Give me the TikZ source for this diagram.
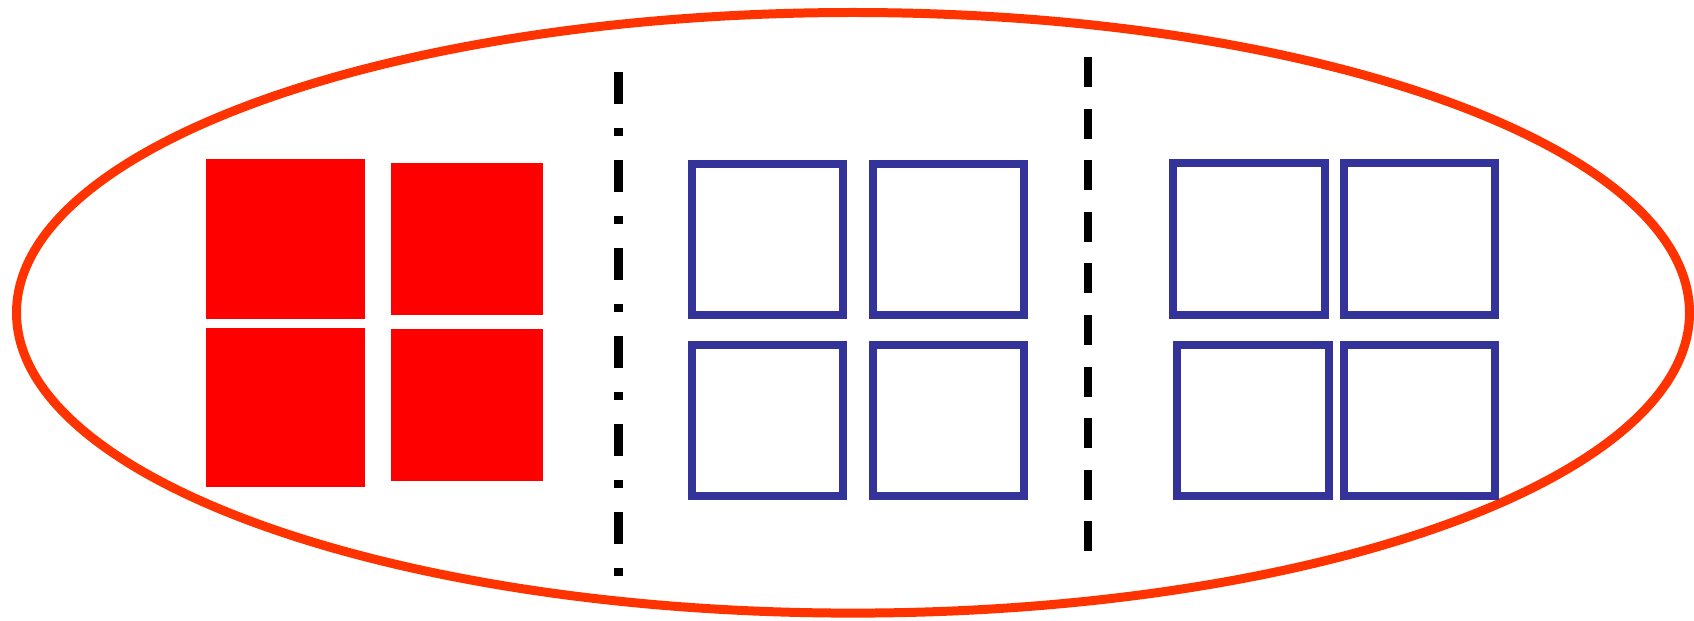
\documentclass[tikz,border=0pt]{standalone}
\usepackage{tikz}
\usetikzlibrary{calc}

\definecolor{ringred}{RGB}{255,51,0}
\definecolor{boxred}{RGB}{255,0,0}
\definecolor{boxblue}{RGB}{52,51,153}

\begin{document}
\begin{tikzpicture}[x=0.02cm,y=-0.02cm]

\useasboundingbox (0,0) rectangle (1694,621);

% Outer ring
\draw[ringred,line width=0.18cm] (853,312.8) ellipse (836.5 and 300.3);

% Filled squares
\fill[boxred] (206.3,159.3) rectangle (365.3,318.7);
\fill[boxred] (206.3,328) rectangle (365.3,487.3);
\fill[boxred] (391,163) rectangle (543,314.7);
\fill[boxred] (391,329) rectangle (543,480.7);

% Dash-dot separator
\draw[line width=0.17cm,dash pattern=on 0.64cm off 0.48cm on 0.16cm off 0.48cm] (618.5,72)--(618.5,577);

% Open squares, middle group
\draw[boxblue,line width=0.16cm] (692,163.7) rectangle (843,315);
\draw[boxblue,line width=0.16cm] (873,163.7) rectangle (1024.3,315);
\draw[boxblue,line width=0.16cm] (692,344.7) rectangle (843,496);
\draw[boxblue,line width=0.16cm] (873,344.7) rectangle (1024.3,496);

% Dashed separator
\draw[line width=0.16cm,dash pattern=on 0.6cm off 0.432cm] (1088,57)--(1088,552);

% Open squares, right group
\draw[boxblue,line width=0.16cm] (1173.3,163.3) rectangle (1325,315);
\draw[boxblue,line width=0.16cm] (1344,163) rectangle (1495.3,314.7);
\draw[boxblue,line width=0.16cm] (1177.3,344.7) rectangle (1329,496.3);
\draw[boxblue,line width=0.16cm] (1344,344.7) rectangle (1495.3,496.3);

\end{tikzpicture}
\end{document}
